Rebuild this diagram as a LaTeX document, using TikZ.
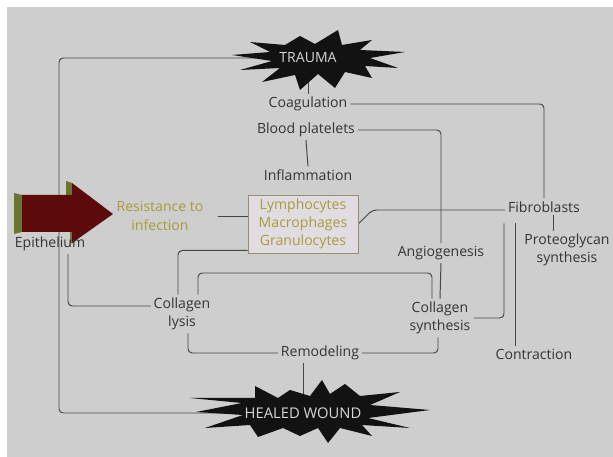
\documentclass[tikz,border=0pt]{standalone}
\usepackage{fontspec}
\setmainfont{Open Sans}
\usetikzlibrary{positioning,calc,backgrounds}
\definecolor{bggray}{RGB}{206,206,206}
\definecolor{txtgray}{RGB}{52,52,52}
\definecolor{wiregray}{RGB}{70,70,70}
\definecolor{olivetxt}{RGB}{168,156,58}
\definecolor{boxfill}{RGB}{224,220,226}
\definecolor{boxedge}{RGB}{150,142,112}
\definecolor{burstblack}{RGB}{18,18,18}
\definecolor{burstwhite}{RGB}{215,215,215}
\definecolor{maroon}{RGB}{92,10,10}
\definecolor{olivegreen}{RGB}{104,118,48}

\begin{document}
\begin{tikzpicture}[x=0.025cm, y=-0.025cm,
  lbl/.style={text=txtgray, font=\fontsize{10}{13}\selectfont, align=center, inner sep=2pt},
  cell/.style={lbl, text=olivetxt, draw=boxedge, fill=boxfill, minimum width=2.75cm, minimum height=1.45cm},
  burst/.style={fill=burstblack},
  wire/.style={draw=wiregray, line width=0.7pt, rounded corners=3pt}]

\useasboundingbox (0,0) rectangle (613,457);

% Labels
\node[lbl, text=burstwhite] (trauma) at (308,58) {TRAUMA};
\node[lbl] (coag)   at (308,104) {Coagulation};
\node[lbl] (plat)   at (306,130) {Blood platelets};
\node[lbl] (inflam) at (308,175) {Inflammation};
\node[cell] (cells) at (303,224) {Lymphocytes\\Macrophages\\Granulocytes};
\node[lbl, text=olivetxt] (resist) at (160,216) {Resistance to\\infection};
\node[lbl] (epith)  at (50,244)  {Epithelium};
\node[lbl] (fib)    at (544,207) {Fibroblasts};
\node[lbl] (proteo) at (567,250) {Proteoglycan\\synthesis};
\node[lbl] (angio)  at (441,253) {Angiogenesis};
\node[lbl] (lysis)  at (182,314) {Collagen\\lysis};
\node[lbl] (csyn)   at (440,318) {Collagen\\synthesis};
\node[lbl] (remod)  at (320,353) {Remodeling};
\node[lbl] (contr)  at (534,354) {Contraction};
\node[lbl, text=burstwhite, font=\fontsize{10.5}{13}\selectfont] (healed) at (303,413) {HEALED WOUND};

\coordinate (rim) at (59,0);
\coordinate (ring) at (300,273);
\coordinate (pq) at ($(fib.south)+(9,0)$);
\coordinate (ct) at ($(fib.south)+(-29,8)$);

\begin{pgfonlayer}{background}
% Background
\fill[white] (0,0) rectangle (613,457);
\fill[bggray] (7,7) rectangle (613,457);

% Connectors
\draw[wire] (trauma.west) -| (rim |- healed.west) -- (healed.west);
\draw[wire] (trauma.south) -- (coag.north);
\draw[wire] (coag.east) -| (fib.north);
\draw[wire] (plat.south) -- (inflam.north);
\draw[wire] (plat.east) -| (angio.north);
\draw[wire] (angio.south) -- (csyn.north);
\draw[wire] (cells.east) -- ++(14,-14) coordinate (kink) -- (kink -| fib.west);
\draw[wire, shorten <=8pt] (resist.east) -- (resist.east -| cells.west);
\draw[wire] ([yshift=2pt]cells.south west) -| ([xshift=-0.1cm]lysis.north);
\draw[wire] ([xshift=0.4cm]lysis.north) |- (ring) -| ([xshift=-0.2cm]csyn.north);
\draw[wire] ([xshift=0.15cm]lysis.south) |- (remod.west);
\draw[wire] (remod.east) -| ([xshift=-0.05cm]csyn.south);
\draw[wire] (remod.south -| healed.north) -- (healed.north);
\draw[wire] ([xshift=0.45cm]epith.south) |- ([yshift=0.2cm]lysis.west);
\draw[wire] (csyn.east) -| ($(fib.south)+(-40,8)$);
\draw[wire] (ct) -- (ct |- contr.north);
\draw[wire] (pq) -- (pq |- proteo.north);

% Bursts
\fill[burst] (232,55) -- (270,52) -- (250,42) -- (285,45) -- (300,36) -- (315,44)
  -- (338,30) -- (342,45) -- (372,40) -- (360,50) -- (405,52) -- (370,58)
  -- (398,68) -- (365,66) -- (372,78) -- (345,72) -- (335,88) -- (318,74)
  -- (300,90) -- (295,75) -- (262,82) -- (280,68) -- (240,70) -- (272,61) -- cycle;
\fill[burst] (190,398) -- (242,403) -- (196,412) -- (243,415) -- (205,428) -- (250,425)
  -- (258,437) -- (283,428) -- (300,436) -- (318,428) -- (328,443) -- (340,428)
  -- (372,436) -- (362,425) -- (410,428) -- (368,418) -- (430,410) -- (370,405)
  -- (400,392) -- (360,396) -- (345,384) -- (330,394) -- (322,380) -- (310,396)
  -- (290,390) -- (278,398) -- (255,386) -- (255,398) -- cycle;

% Arrow
\fill[olivegreen] (14,193) -- (22,195) -- (22,232) -- (14,234) -- cycle;
\fill[olivegreen] (66,181) -- (72,183) -- (72,195) -- (66,195) -- cycle;
\fill[olivegreen] (70,232) -- (76,232) -- (76,241) -- (70,244) -- cycle;
\fill[maroon] (22,195) -- (72,195) -- (72,183) -- (113,214) -- (72,243) -- (72,232) -- (22,232) -- cycle;
\end{pgfonlayer}

\end{tikzpicture}
\end{document}
